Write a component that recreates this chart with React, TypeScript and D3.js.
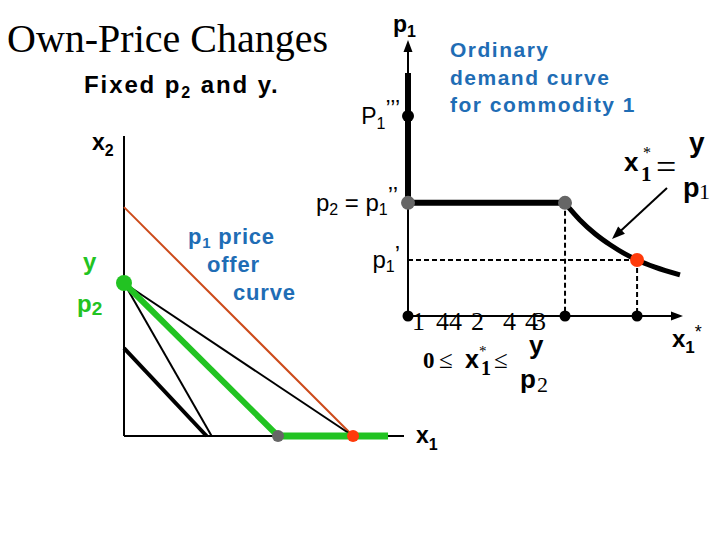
import React from "react";
import * as d3 from "d3";

const W = 720;
const H = 540;

// ---------- Left panel: budget lines (x2 intercept, x1 intercept) ----------
const budgetNames = ["red", "blackLong", "blackShort", "blackThick", "green"];
const budgetX2Intercepts = [7.63, 5.1, 5.1, 2.93, 5.1];
const budgetX1Intercepts = [8.18, 8.18, 3.13, 2.95, 5.5];
const offerOnAxisX1 = [5.5, 9.43]; // green offer-curve segment along the x1 axis

// ---------- Right panel: ordinary demand curve ----------
const priceLabels = ["P1'''", "p2 = p1''", "p1'"];
const priceValues = [7.25, 4.1, 2.03];
const kinkX1 = 5.71; // y / p2
const x1AtP1Single = 8.33;
const verticalThickTop = 8.8;
const demandX1 = [5.71, 6.25, 6.8, 7.35, 7.89, 8.33, 8.98, 9.89];
const demandP1 = [4.09, 3.48, 2.98, 2.58, 2.25, 2.03, 1.77, 1.49];
const garbledTicks = ["1", "44", "2", "4", "43"];
const garbledTickX = [412, 436, 471, 503, 525];

const SANS = "'Liberation Sans', Arial, sans-serif";
const SERIF = "'Liberation Serif', 'Times New Roman', serif";
const BLUE = "#1f6db5";
const GREEN = "#22c322";
const RED_LINE = "#cc4a1a";
const RED_DOT = "#ff3a0a";
const GRAY = "#666666";

const budgetStyle: Record<string, { stroke: string; w: number }> = {
  red: { stroke: RED_LINE, w: 2 },
  blackLong: { stroke: "#000", w: 2 },
  blackShort: { stroke: "#000", w: 2 },
  blackThick: { stroke: "#000", w: 4 },
  green: { stroke: GREEN, w: 6 },
};

export default function App() {
  const lx = d3.scaleLinear().domain([0, 10]).range([124, 404]);
  const ly = d3.scaleLinear().domain([0, 10]).range([436, 136]);
  const rx = d3.scaleLinear().domain([0, 10]).range([408, 683]);
  const ry = d3.scaleLinear().domain([0, 10]).range([316, 40]);

  const demandPath = d3
    .line<number>()
    .x((_, i) => rx(demandX1[i]))
    .y((_, i) => ry(demandP1[i]))
    .curve(d3.curveMonotoneX)(demandX1);

  const tip = (x: number, y: number, angle: number, len = 12, half = 4.5) => {
    const a = (angle * Math.PI) / 180;
    const bx = x - len * Math.cos(a);
    const by = y - len * Math.sin(a);
    const px = -Math.sin(a) * half;
    const py = Math.cos(a) * half;
    return `${x},${y} ${bx + px},${by + py} ${bx - px},${by - py}`;
  };

  // annotation arrow
  const ax0 = 667, ay0 = 188, ax1 = 612, ay1 = 239;
  const annAngle = (Math.atan2(ay1 - ay0, ax1 - ax0) * 180) / Math.PI;

  return (
    <svg
      width={W}
      height={H}
      style={{ position: "absolute", left: 0, top: 0, background: "#fff" }}
    >
      <rect width={W} height={H} fill="#fff" />
      {/* Title */}
      <text x={7} y={52} fontFamily={SERIF} fontSize={40} fill="#000">
        Own-Price Changes
      </text>
      <text x={84} y={93} fontFamily={SANS} fontWeight="bold" fontSize={24} letterSpacing={1.9}>
        Fixed p<tspan fontSize={16} dy={5}>2</tspan>
        <tspan dy={-5}> and y.</tspan>
      </text>

      {/* ---------- Left panel ---------- */}
      <line x1={lx(0)} y1={ly(0)} x2={lx(0)} y2={ly(10)} stroke="#000" strokeWidth={2} />
      <line x1={lx(0)} y1={ly(0)} x2={lx(10)} y2={ly(0)} stroke="#000" strokeWidth={2} />
      {budgetNames.map((n, i) => (
        <line
          key={n}
          x1={lx(0)}
          y1={ly(budgetX2Intercepts[i])}
          x2={lx(budgetX1Intercepts[i])}
          y2={ly(0)}
          stroke={budgetStyle[n].stroke}
          strokeWidth={budgetStyle[n].w}
        />
      ))}
      <line
        x1={lx(offerOnAxisX1[0])}
        y1={ly(0)}
        x2={lx(offerOnAxisX1[1])}
        y2={ly(0)}
        stroke={GREEN}
        strokeWidth={7}
      />
      <circle cx={lx(0)} cy={ly(budgetX2Intercepts[1])} r={8} fill={GREEN} />
      <circle cx={lx(offerOnAxisX1[0])} cy={ly(0)} r={6} fill={GRAY} />
      <circle cx={lx(budgetX1Intercepts[0])} cy={ly(0)} r={6} fill={RED_DOT} />

      <text x={92} y={150} fontFamily={SANS} fontWeight="bold" fontSize={23}>
        x<tspan fontSize={16} dy={6}>2</tspan>
      </text>
      <text x={416} y={443} fontFamily={SANS} fontWeight="bold" fontSize={23}>
        x<tspan fontSize={16} dy={7}>1</tspan>
      </text>
      <text x={83} y={270} fontFamily={SANS} fontWeight="bold" fontSize={24} fill={GREEN}>
        y
      </text>
      <text x={77} y={312} fontFamily={SANS} fontWeight="bold" fontSize={24} fill={GREEN}>
        p<tspan fontSize={19} dy={3}>2</tspan>
      </text>
      <g fontFamily={SANS} fontWeight="bold" fontSize={22} fill={BLUE} letterSpacing={0.8}>
        <text x={188} y={244}>
          p<tspan fontSize={15} dy={4}>1</tspan>
          <tspan dy={-4}> price</tspan>
        </text>
        <text x={207} y={272}>offer</text>
        <text x={233} y={300}>curve</text>
      </g>

      {/* ---------- Right panel ---------- */}
      <line x1={rx(0)} y1={ry(0)} x2={rx(0)} y2={ry(10) + 10} stroke="#000" strokeWidth={2} />
      <polygon points={tip(rx(0), ry(10), -90)} fill="#000" />
      <line x1={rx(0)} y1={ry(0)} x2={rx(10) - 10} y2={ry(0)} stroke="#000" strokeWidth={2} />
      <polygon points={tip(rx(10), ry(0), 0)} fill="#000" />

      <line
        x1={rx(0)}
        y1={ry(verticalThickTop)}
        x2={rx(0)}
        y2={ry(priceValues[1])}
        stroke="#000"
        strokeWidth={6}
      />
      <line
        x1={rx(0)}
        y1={ry(priceValues[1])}
        x2={rx(kinkX1)}
        y2={ry(priceValues[1])}
        stroke="#000"
        strokeWidth={6}
      />
      <path d={demandPath || ""} fill="none" stroke="#000" strokeWidth={5} />

      <g stroke="#000" strokeWidth={2} strokeDasharray="5,3">
        <line x1={rx(kinkX1)} y1={ry(priceValues[1])} x2={rx(kinkX1)} y2={ry(0)} />
        <line x1={rx(0)} y1={ry(priceValues[2])} x2={rx(x1AtP1Single)} y2={ry(priceValues[2])} />
        <line x1={rx(x1AtP1Single)} y1={ry(priceValues[2])} x2={rx(x1AtP1Single)} y2={ry(0)} />
      </g>

      <circle cx={rx(0)} cy={ry(priceValues[0])} r={6} fill="#000" />
      <circle cx={rx(0)} cy={ry(priceValues[1])} r={7} fill={GRAY} />
      <circle cx={rx(kinkX1)} cy={ry(priceValues[1])} r={7} fill={GRAY} />
      <circle cx={rx(x1AtP1Single)} cy={ry(priceValues[2])} r={7} fill={RED_DOT} />
      <circle cx={rx(0)} cy={ry(0)} r={5.5} fill="#000" />
      <circle cx={rx(kinkX1)} cy={ry(0)} r={5.5} fill="#000" />
      <circle cx={rx(x1AtP1Single)} cy={ry(0)} r={5.5} fill="#000" />

      {/* annotation arrow */}
      <line x1={ax0} y1={ay0} x2={ax1 + 8} y2={ay1 - 7.5} stroke="#000" strokeWidth={2} />
      <polygon points={tip(ax1, ay1, annAngle, 13, 5)} fill="#000" />

      {/* price labels */}
      <text x={400} y={124} textAnchor="end" fontFamily={SANS} fontSize={23}>
        P<tspan fontSize={16} dy={5}>1</tspan>
        <tspan dy={-12}>’’’</tspan>
      </text>
      <text x={398} y={211} textAnchor="end" fontFamily={SANS} fontSize={24}>
        p<tspan fontSize={16} dy={4}>2</tspan>
        <tspan dy={-4}> = p</tspan>
        <tspan fontSize={16} dy={4}>1</tspan>
        <tspan dy={-11}>’’</tspan>
      </text>
      <text x={400} y={268} textAnchor="end" fontFamily={SANS} fontSize={24}>
        p<tspan fontSize={16} dy={4}>1</tspan>
        <tspan dy={-9}>’</tspan>
      </text>
      <text x={393} y={32} fontFamily={SANS} fontWeight="bold" fontSize={23}>
        p<tspan fontSize={16} dy={5}>1</tspan>
      </text>
      <text x={672} y={347} fontFamily={SANS} fontWeight="bold" fontSize={24}>
        x<tspan fontSize={17} dy={6}>1</tspan>
        <tspan fontSize={18} fontWeight="normal" dy={-15}>*</tspan>
      </text>

      <g fontFamily={SANS} fontWeight="bold" fontSize={21} fill={BLUE} letterSpacing={1.5}>
        <text x={450} y={57}>Ordinary</text>
        <text x={450} y={85}>demand curve</text>
        <text x={450} y={112}>for commodity 1</text>
      </g>

      {/* formula x1* = y / p1 */}
      <g fill="#000">
        <text x={624} y={171} fontFamily={SANS} fontWeight="bold" fontSize={26}>x</text>
        <text x={641} y={181} fontFamily={SERIF} fontWeight="bold" fontSize={21}>1</text>
        <text x={643} y={158} fontFamily={SERIF} fontSize={16}>*</text>
        <text x={656} y={179} fontFamily={SERIF} fontSize={36}>=</text>
        <text x={689} y={152} fontFamily={SANS} fontWeight="bold" fontSize={28}>y</text>
        <text x={683} y={197} fontFamily={SANS} fontWeight="bold" fontSize={27}>p</text>
        <text x={699} y={199} fontFamily={SERIF} fontSize={22}>1</text>
      </g>

      {/* garbled underbrace row */}
      <text fontFamily={SERIF} fontSize={26} fill="#000" y={330}>
        {garbledTicks.map((t, i) => (
          <tspan key={i} x={garbledTickX[i]} letterSpacing={t === "43" ? -5 : 0}>
            {t}
          </tspan>
        ))}
      </text>

      {/* formula 0 <= x1* <= y / p2 */}
      <g fill="#000">
        <text x={423} y={368} fontFamily={SERIF} fontWeight="bold" fontSize={23}>0</text>
        <text x={439} y={368} fontFamily={SERIF} fontSize={25}>≤</text>
        <text x={465} y={368} fontFamily={SANS} fontWeight="bold" fontSize={25}>x</text>
        <text x={481} y={375} fontFamily={SERIF} fontWeight="bold" fontSize={20}>1</text>
        <text x={479} y={356} fontFamily={SERIF} fontSize={15}>*</text>
        <text x={494} y={368} fontFamily={SERIF} fontSize={25}>≤</text>
        <text x={529} y={354} fontFamily={SANS} fontWeight="bold" fontSize={26}>y</text>
        <text x={520} y={388} fontFamily={SANS} fontWeight="bold" fontSize={26}>p</text>
        <text x={537} y={392} fontFamily={SERIF} fontSize={22}>2</text>
      </g>
    </svg>
  );
}
